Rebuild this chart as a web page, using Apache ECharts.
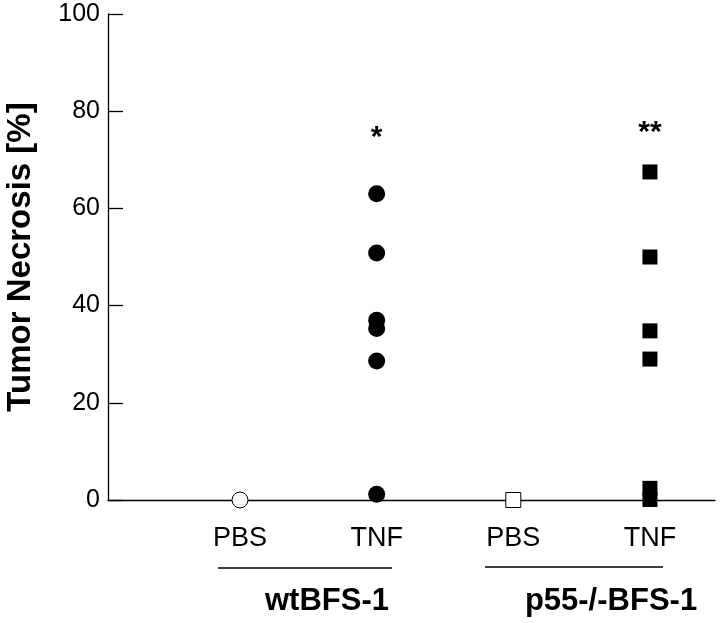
<!DOCTYPE html>
<html>
<head>
<meta charset="utf-8">
<script src="https://cdn.jsdelivr.net/npm/echarts@6/dist/echarts.min.js"></script>
<style>html,body{margin:0;padding:0;background:#fff}#c{width:720px;height:623px}</style>
</head>
<body>
<div id="c"></div>
<script>
// Category labels along the x axis (positions 1..4)
var categories = ['PBS', 'TNF', 'PBS', 'TNF'];
var groupLabels = ['wtBFS-1', 'p55-/-BFS-1'];
// Tumor necrosis [%] per animal
var wtPBS = [0];
var wtTNF = [63, 50.8, 37, 35.3, 28.6, 1.2];
var koPBS = [0];
var koTNF = [67.5, 50, 34.8, 29, 2.4, 0.1];
// significance markers
var sigLabels = ['*', '**'];
var sigX = [2, 4];
var sigY = [74.5, 75.6];
var yTicks = [0, 20, 40, 60, 80, 100];

function pts(xv, arr) { return arr.map(function (v) { return [xv, v]; }); }

var chart = echarts.init(document.getElementById('c'), null, {renderer: 'canvas'});
var font = 'Liberation Sans, Arial, Helvetica, sans-serif';
var ink = '#000';

chart.setOption({
  animation: false,
  backgroundColor: '#fff',
  grid: {left: 108, right: 5, top: 14, bottom: 123, outerBoundsMode: 'none', containLabel: false},
  xAxis: {
    type: 'value', min: 0.034, max: 4.476,
    splitLine: {show: false},
    axisLine: {show: true, onZero: false, lineStyle: {color: ink, width: 1.3}},
    axisTick: {show: false},
    axisLabel: {
      customValues: [1, 2, 3, 4],
      formatter: function (v) { return categories[Math.round(v) - 1] || ''; },
      color: ink, fontFamily: font, fontSize: 27, margin: 25
    }
  },
  yAxis: {
    type: 'value', min: 0, max: 100, interval: 20,
    name: 'Tumor Necrosis [%]', nameLocation: 'middle', nameGap: 71,
    nameTextStyle: {color: ink, fontFamily: font, fontSize: 33, fontWeight: 'bold'},
    splitLine: {show: false},
    axisLine: {show: true, onZero: false, lineStyle: {color: ink, width: 1.3}},
    axisTick: {show: true, inside: true, length: 15, lineStyle: {color: ink, width: 1.3}},
    axisLabel: {color: ink, fontFamily: font, fontSize: 25, margin: 8,
      formatter: function (v) { return yTicks.indexOf(v) >= 0 ? String(v) : ''; }}
  },
  graphic: [
    {type: 'line', shape: {x1: 218, y1: 568, x2: 392, y2: 568}, style: {stroke: ink, lineWidth: 1.5}},
    {type: 'line', shape: {x1: 485, y1: 567, x2: 663, y2: 567}, style: {stroke: ink, lineWidth: 1.5}},
    {type: 'text', x: 327, y: 601, style: {text: groupLabels[0], font: 'bold 31px ' + font, fill: ink, textAlign: 'center', textVerticalAlign: 'middle'}},
    {type: 'text', x: 611, y: 601, style: {text: groupLabels[1], font: 'bold 31px ' + font, fill: ink, textAlign: 'center', textVerticalAlign: 'middle'}}
  ],
  series: [
    {type: 'scatter', data: pts(1, wtPBS), symbol: 'circle', symbolSize: 16,
      itemStyle: {color: '#fff', borderColor: ink, borderWidth: 1, opacity: 1}, z: 3},
    {type: 'scatter', data: pts(2, wtTNF), symbol: 'circle', symbolSize: 17,
      itemStyle: {color: ink, opacity: 1}, z: 3},
    {type: 'scatter', data: pts(3, koPBS), symbol: 'rect', symbolSize: 15,
      itemStyle: {color: '#fff', borderColor: ink, borderWidth: 1, opacity: 1}, z: 3},
    {type: 'scatter', data: pts(4, koTNF), symbol: 'rect', symbolSize: 15,
      itemStyle: {color: ink, opacity: 1}, z: 3},
    {type: 'scatter', symbolSize: 0, silent: true,
      itemStyle: {color: ink, opacity: 1},
      data: sigX.map(function (x, i) { return [x, sigY[i]]; }),
      label: {show: true, position: 'inside', color: ink, opacity: 1, fontFamily: font, fontSize: 30, fontWeight: 'bold',
        formatter: function (p) { return sigLabels[p.dataIndex]; }}}
  ]
});
</script>
</body>
</html>
